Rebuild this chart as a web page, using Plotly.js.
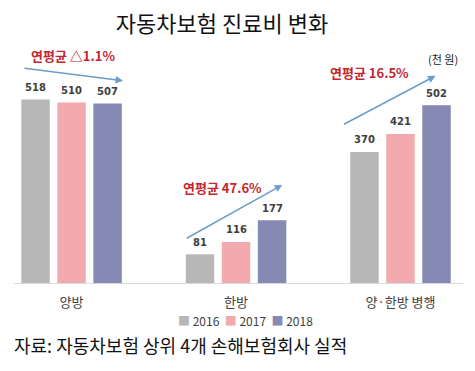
<!DOCTYPE html>
<html>
<head>
<meta charset="utf-8">
<script src="https://cdn.plot.ly/plotly-3.0.1.min.js"></script>
<style>html,body{margin:0;padding:0;background:#fff;}#chart{width:475px;height:371px;}</style>
</head>
<body>
<div id="chart"></div>
<script>
const categories = ['양방', '한방', '양·한방 병행'];
const years = ['2016', '2017', '2018'];
const values2016 = [518, 81, 370];
const values2017 = [510, 116, 421];
const values2018 = [507, 177, 502];
const colors = ['#b7b7b7', '#f2aaaf', '#8789b5'];
const growthLabels = ['연평균 △1.1%', '연평균 47.6%', '연평균 16.5%'];
const title = '자동차보험 진료비 변화';
const unitLabel = '(천 원)';
const source = '자료: 자동차보험 상위 4개 손해보험회사 실적';

const series = [values2016, values2017, values2018];
const kfont = '"Noto Sans CJK KR", "Noto Sans", sans-serif';
const numFont = '"DejaVu Sans", sans-serif';
const barStep = 0.219;

const traces = series.map((vals, i) => ({
  type: 'bar',
  name: years[i],
  x: [0, 1, 2],
  y: vals,
  marker: {color: colors[i]},
  hoverinfo: 'skip'
}));

const red = '#c4262e';
const arrowColor = '#6a9dcb';
const arrows = [
  [-0.295, 607, 0.313, 571],
  [0.691, 124, 1.281, 277],
  [1.647, 446, 2.213, 585]
];
const labelPos = [[0.009, 641], [0.919, 271], [1.811, 593]];

const annotations = [];
series.forEach((vals, j) => {
  vals.forEach((v, i) => {
    annotations.push({
      xref: 'x', yref: 'y', x: i + (j - 1) * barStep, y: v,
      yshift: 12, yanchor: 'middle', showarrow: false,
      text: '<b>' + v + '</b>',
      font: {family: numFont, size: 10, color: '#404040'}
    });
  });
});
arrows.forEach(a => {
  annotations.push({
    xref: 'x', yref: 'y', axref: 'x', ayref: 'y',
    x: a[2], y: a[3], ax: a[0], ay: a[1],
    showarrow: true, arrowhead: 2, arrowsize: 1, arrowwidth: 1.5,
    arrowcolor: arrowColor, text: ''
  });
});
growthLabels.forEach((t, i) => {
  annotations.push({
    xref: 'x', yref: 'y', x: labelPos[i][0], y: labelPos[i][1],
    text: '<b>' + t + '</b>', showarrow: false,
    font: {family: kfont, size: 13, color: red}
  });
});
annotations.push({
  xref: 'paper', yref: 'paper', x: (460 - 14) / 449, y: (283 - 59) / 238,
  text: unitLabel, showarrow: false, xanchor: 'right', yanchor: 'middle',
  font: {family: kfont, size: 11, color: '#222'}
});
annotations.push({
  xref: 'paper', yref: 'paper', x: (176 - 14) / 449, y: (283 - 320.5) / 238,
  xanchor: 'left', yanchor: 'middle', showarrow: false,
  text: years.map((yr, i) => '<span style="color:' + colors[i] + '">■</span> ' + yr).join('  '),
  font: {family: kfont, size: 12, color: '#404040'}
});
annotations.push({
  xref: 'paper', yref: 'paper', x: -2 / 449, y: (283 - 345) / 238,
  xanchor: 'left', yanchor: 'middle', showarrow: false,
  text: source,
  font: {family: kfont, size: 18, color: '#111'}
});

const layout = {
  width: 475, height: 371,
  margin: {l: 14, r: 12, t: 45, b: 88},
  paper_bgcolor: '#fff', plot_bgcolor: '#fff',
  showlegend: false,
  barmode: 'group',
  bargap: 0.343,
  bargroupgap: 0.21,
  title: {
    text: title, x: 222 / 475, xanchor: 'center', y: 1 - 24 / 371, yanchor: 'middle',
    xref: 'container', yref: 'container',
    font: {family: kfont, size: 22, color: '#111'}
  },
  xaxis: {
    range: [-0.35, 2.38],
    tickvals: [0, 1, 2], ticktext: categories,
    showgrid: false, zeroline: false,
    showline: true, linecolor: '#d9d9d9', linewidth: 1,
    ticks: 'outside', ticklen: 7, tickcolor: 'rgba(0,0,0,0)',
    tickfont: {family: kfont, size: 13, color: '#404040'},
    fixedrange: true
  },
  yaxis: {
    range: [0, 672], visible: false, fixedrange: true
  },
  annotations: annotations
};

Plotly.newPlot('chart', traces, layout, {displayModeBar: false, staticPlot: true});
</script>
</body>
</html>
